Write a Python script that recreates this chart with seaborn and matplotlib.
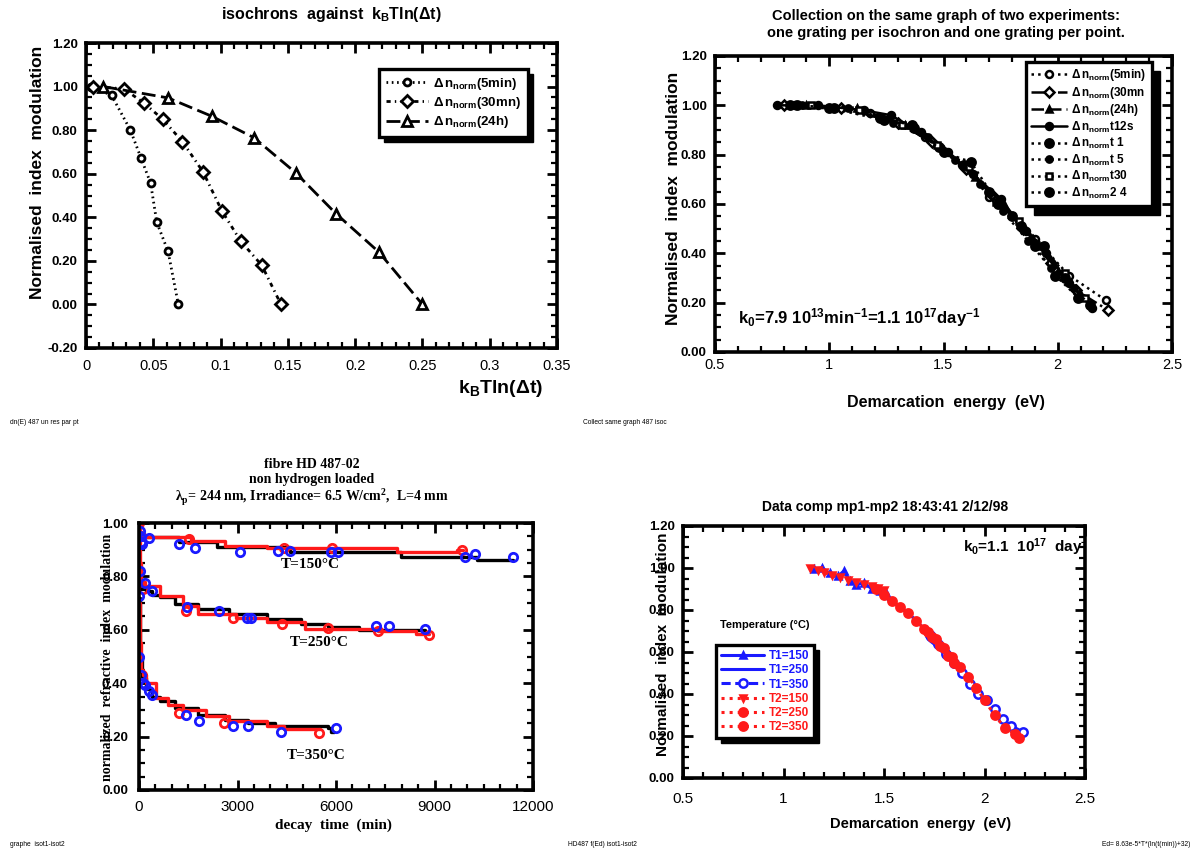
import matplotlib
matplotlib.use("Agg")
import matplotlib.pyplot as plt
import seaborn as sns
from matplotlib.patches import Rectangle
from matplotlib.ticker import MultipleLocator, FuncFormatter

# ---------------- data ----------------
# isochrons versus kB T ln(dt)
iso_5min_x = [0.004, 0.019, 0.033, 0.041, 0.048, 0.0526, 0.061, 0.0686]
iso_5min_y = [1.00, 0.96, 0.80, 0.67, 0.557, 0.377, 0.243, 0.00]
iso_30mn_x = [0.005, 0.028, 0.043, 0.057, 0.0717, 0.087, 0.101, 0.115, 0.1306, 0.1449]
iso_30mn_y = [1.00, 0.99, 0.925, 0.85, 0.747, 0.608, 0.429, 0.29, 0.18, 0.00]
iso_24h_x = [0.013, 0.061, 0.0934, 0.1249, 0.1557, 0.1857, 0.2177, 0.250]
iso_24h_y = [1.00, 0.948, 0.864, 0.765, 0.605, 0.417, 0.24, 0.00]

# master curves against demarcation energy (two experiments)
col_labels = ["(5min)", "(30mn", "(24h)", "t12s", "t 1", "t 5", "t30", "2 4"]
col_5min_x = [0.85, 1.18, 1.42, 1.58, 1.70, 1.80, 1.90, 2.05, 2.21]
col_5min_y = [1.00, 0.97, 0.87, 0.76, 0.63, 0.55, 0.46, 0.31, 0.21]
col_30mn_x = [0.80, 1.05, 1.30, 1.45, 1.60, 1.72, 1.85, 1.97, 2.08, 2.22]
col_30mn_y = [1.00, 0.99, 0.93, 0.85, 0.74, 0.63, 0.50, 0.36, 0.25, 0.17]
col_24h_x = [0.90, 1.12, 1.33, 1.50, 1.64, 1.77, 1.89, 2.00, 2.10]
col_24h_y = [1.00, 0.99, 0.92, 0.82, 0.71, 0.59, 0.46, 0.33, 0.23]
col_t12s_x = [0.77, 0.95, 1.15, 1.27, 1.40, 1.52, 1.63, 1.75, 1.86, 1.95, 2.05, 2.15]
col_t12s_y = [1.00, 1.00, 0.98, 0.96, 0.89, 0.81, 0.72, 0.62, 0.49, 0.40, 0.28, 0.18]
col_t1_x = [0.83, 1.00, 1.24, 1.37, 1.48, 1.59, 1.70, 1.80, 1.90, 1.99, 2.09]
col_t1_y = [1.00, 0.99, 0.94, 0.91, 0.83, 0.76, 0.65, 0.55, 0.43, 0.31, 0.22]
col_t5_x = [0.88, 1.08, 1.28, 1.43, 1.55, 1.66, 1.76, 1.87, 1.97, 2.07]
col_t5_y = [1.00, 0.99, 0.93, 0.87, 0.78, 0.68, 0.57, 0.45, 0.34, 0.26]
col_t30_x = [0.92, 1.13, 1.32, 1.47, 1.61, 1.73, 1.83, 1.93, 2.03, 2.12]
col_t30_y = [1.00, 0.98, 0.92, 0.84, 0.75, 0.61, 0.53, 0.43, 0.32, 0.22]
col_24_x = [0.86, 1.02, 1.22, 1.36, 1.50, 1.62, 1.74, 1.84, 1.94, 2.03, 2.14]
col_24_y = [1.00, 0.99, 0.95, 0.92, 0.81, 0.77, 0.60, 0.51, 0.43, 0.30, 0.19]

# isothermal decay, fibre HD 487-02 (time in min)
blk150_t = [0, 10, 30, 80, 1220, 2380, 4590, 7970, 10290, 11400]
blk150_y = [1.00, 0.96, 0.95, 0.946, 0.927, 0.909, 0.892, 0.873, 0.861, 0.861]
red150_t = [0, 10, 40, 100, 1570, 2620, 3900, 7850, 9700, 9880]
red150_y = [1.00, 0.97, 0.955, 0.946, 0.934, 0.915, 0.905, 0.892, 0.90, 0.90]
blk250_t = [0, 60, 200, 400, 640, 1100, 1800, 2730, 3900, 4940, 5760, 6690, 8720]
blk250_y = [0.83, 0.76, 0.745, 0.73, 0.721, 0.695, 0.677, 0.658, 0.64, 0.62, 0.61, 0.60, 0.60]
red250_t = [0, 20, 60, 170, 640, 1340, 1800, 2960, 3900, 5060, 7270, 8430, 8840]
red250_y = [1.00, 0.85, 0.78, 0.764, 0.727, 0.69, 0.658, 0.645, 0.63, 0.604, 0.595, 0.583, 0.583]
blk350_t = [0, 30, 100, 200, 400, 640, 1100, 1800, 2620, 3310, 4130, 5760, 5850, 5930]
blk350_y = [0.72, 0.50, 0.42, 0.38, 0.35, 0.332, 0.307, 0.282, 0.263, 0.25, 0.238, 0.232, 0.219, 0.219]
red350_t = [0, 20, 60, 120, 200, 520, 870, 1340, 2030, 2730, 3900, 4420, 5520]
red350_y = [0.70, 0.55, 0.45, 0.43, 0.40, 0.345, 0.32, 0.30, 0.277, 0.258, 0.238, 0.229, 0.229]

blue150_t = [20, 30, 60, 100, 300, 1220, 1720, 3080, 4240, 4590, 5840, 6070, 9940, 10230, 11400]
blue150_y = [0.97, 0.95, 0.93, 0.92, 0.945, 0.921, 0.908, 0.892, 0.896, 0.896, 0.89, 0.89, 0.873, 0.883, 0.873]
blue250_t = [10, 30, 170, 400, 1450, 2440, 3290, 3400, 7210, 7620, 8720]
blue250_y = [0.727, 0.82, 0.774, 0.746, 0.686, 0.67, 0.645, 0.645, 0.614, 0.614, 0.604]
blue350_t = [10, 60, 120, 170, 290, 400, 1430, 1840, 2850, 3310, 4320, 6010]
blue350_y = [0.50, 0.43, 0.40, 0.395, 0.37, 0.357, 0.28, 0.26, 0.238, 0.238, 0.219, 0.234]
redm150_t = [0, 50, 1510, 4420, 5870, 9830]
redm150_y = [1.00, 0.95, 0.94, 0.905, 0.905, 0.90]
redm250_t = [120, 1420, 2850, 4360, 5760, 7270, 8840]
redm250_y = [0.752, 0.67, 0.645, 0.623, 0.605, 0.595, 0.58]
redm350_t = [80, 1220, 2590, 5490]
redm350_y = [0.43, 0.288, 0.25, 0.213]

# data comparison mp1 / mp2 against demarcation energy
cmp_labels = ["T1=150", "T1=250", "T1=350", "T2=150", "T2=250", "T2=350"]
t1_150_x = [1.15, 1.19, 1.23, 1.27, 1.30, 1.33, 1.36, 1.40, 1.44, 1.48, 1.51]
t1_150_y = [0.995, 1.00, 0.975, 0.96, 0.985, 0.94, 0.92, 0.93, 0.90, 0.89, 0.88]
t1_250_x = [1.45, 1.49, 1.53, 1.57, 1.61, 1.65, 1.69, 1.72, 1.76, 1.80, 1.84]
t1_250_y = [0.89, 0.88, 0.84, 0.82, 0.79, 0.76, 0.72, 0.66, 0.63, 0.59, 0.55]
t1_350_x = [1.73, 1.77, 1.81, 1.85, 1.89, 1.93, 1.97, 2.01, 2.05, 2.09, 2.13, 2.19]
t1_350_y = [0.68, 0.64, 0.59, 0.55, 0.50, 0.45, 0.40, 0.37, 0.33, 0.28, 0.25, 0.22]
t2_150_x = [1.13, 1.17, 1.20, 1.24, 1.28, 1.32, 1.36, 1.40, 1.44, 1.47, 1.50]
t2_150_y = [1.00, 0.99, 0.98, 0.965, 0.955, 0.945, 0.935, 0.925, 0.915, 0.905, 0.895]
t2_250_x = [1.46, 1.50, 1.54, 1.58, 1.62, 1.66, 1.70, 1.74, 1.78, 1.82, 1.85]
t2_250_y = [0.90, 0.87, 0.845, 0.815, 0.785, 0.75, 0.71, 0.67, 0.63, 0.58, 0.55]
t2_350_x = [1.72, 1.76, 1.80, 1.84, 1.88, 1.92, 1.96, 2.00, 2.05, 2.10, 2.15, 2.17]
t2_350_y = [0.695, 0.66, 0.62, 0.575, 0.53, 0.48, 0.43, 0.37, 0.30, 0.24, 0.21, 0.19]

# ---------------- styling ----------------
sns.set_theme(style="ticks")
plt.rcParams.update({
    "font.family": ["Liberation Sans", "DejaVu Sans"],
    "mathtext.fontset": "custom",
    "mathtext.rm": "Liberation Sans",
    "mathtext.bf": "Liberation Sans:bold",
    "mathtext.it": "Liberation Sans:italic",
    "text.color": "black",
    "axes.edgecolor": "black",
})

BLUE = "#1a1aff"
RED = "#ff1a1a"
W, H = 1192, 861
fig = plt.figure(figsize=(W / 100, H / 100), dpi=100)
fig.patch.set_facecolor("white")


def axes_px(left, top, right, bottom):
    return fig.add_axes([left / W, 1 - bottom / H, (right - left) / W, (bottom - top) / H])


def ftext(x, y, s, **kw):
    kw.setdefault("ha", "center")
    kw.setdefault("va", "center")
    return fig.text(x / W, 1 - y / H, s, **kw)


def frame(ax, xlim, ylim, xmaj, xmin, ymaj, ymin, xfmt, xpad, ypad, xsize=10.5, ysize=9.5):
    ax.set_xlim(*xlim)
    ax.set_ylim(*ylim)
    ax.xaxis.set_major_locator(MultipleLocator(xmaj))
    ax.xaxis.set_minor_locator(MultipleLocator(xmin))
    ax.yaxis.set_major_locator(MultipleLocator(ymaj))
    ax.yaxis.set_minor_locator(MultipleLocator(ymin))
    ax.xaxis.set_major_formatter(FuncFormatter(xfmt))
    ax.yaxis.set_major_formatter(FuncFormatter(lambda v, p: "%.2f" % v))
    ax.tick_params(which="both", direction="in", top=True, right=True, colors="black")
    ax.tick_params(which="major", length=7, width=2)
    ax.tick_params(which="minor", length=4, width=1.6)
    ax.tick_params(axis="x", which="major", pad=xpad, labelsize=xsize)
    ax.tick_params(axis="y", which="major", pad=ypad, labelsize=ysize)
    for lab in ax.get_yticklabels():
        lab.set_fontweight("bold")
    for s in ax.spines.values():
        s.set_visible(True)
        s.set_linewidth(2.6)
        s.set_color("black")
    ax.set_facecolor("white")
    ax.grid(False)
    ax.set_xlabel("")
    ax.set_ylabel("")


def boxed_legend(ax, handles, labels, x, y, **kw):
    leg = ax.legend(handles, labels, loc="upper left", bbox_to_anchor=(x / W, 1 - y / H),
                    bbox_transform=fig.transFigure, frameon=True, fancybox=False,
                    framealpha=1, numpoints=1, borderaxespad=0, **kw)
    fr = leg.get_frame()
    fr.set_edgecolor("black")
    fr.set_linewidth(2.4)
    fr.set_facecolor("white")
    return leg


def legend_shadow(ax, leg, dx, dy):
    fig.canvas.draw()
    bb = leg.get_frame().get_window_extent().transformed(fig.transFigure.inverted())
    ax.add_patch(Rectangle((bb.x0 + dx / W, bb.y0 - dy / H), bb.width, bb.height,
                           transform=fig.transFigure, facecolor="black", edgecolor="black",
                           zorder=leg.get_zorder() - 0.1, clip_on=False))


def gfmt(v, p):
    return "%g" % round(v, 6)


def ifmt(v, p):
    return "%d" % round(v)


def nlab(s):
    return r"$\mathbf{\Delta\,n_{norm}}$" + s


# ---------------- panel 1: isochrons ----------------
ax1 = axes_px(86, 43, 557, 348)
iso_styles = [
    (iso_5min_x, iso_5min_y, (0, (0.6, 1.3)), "o", 5, "(5min)"),
    (iso_30mn_x, iso_30mn_y, (0, (1.5, 1.5, 0.5, 1.5)), "D", 6, "(30mn)"),
    (iso_24h_x, iso_24h_y, (0, (5, 2)), "^", 6.5, "(24h)"),
]
for xs, ys, ls, mk, ms, lb in iso_styles:
    sns.lineplot(x=xs, y=ys, ax=ax1, estimator=None, sort=False, color="black", lw=2,
                 linestyle=ls, marker=mk, markersize=ms, markerfacecolor="white",
                 markeredgecolor="black", markeredgewidth=2, label=nlab(lb))
frame(ax1, (0, 0.35), (-0.2, 1.2), 0.05, 0.01, 0.2, 0.05, gfmt, 8, 6)
leg1 = boxed_legend(ax1, ax1.get_lines()[:3], [nlab(s) for s in ["(5min)", "(30mn)", "(24h)"]],
                    379, 69, prop={"weight": "bold", "size": 9.5}, handlelength=3.2,
                    labelspacing=0.25, borderpad=0.5, handletextpad=0.4)
ftext(331, 15, r"isochrons  against  k$_\mathbf{B}$Tln($\mathbf{\Delta}$t)", fontsize=11.5,
      fontweight="bold")
ftext(543, 388, r"k$_\mathbf{B}$Tln($\mathbf{\Delta}$t)", fontsize=14, fontweight="bold", ha="right")
ftext(38, 172, "Normalised  index  modulation", fontsize=12.5, fontweight="bold", rotation=90)

# ---------------- panel 2: two experiments on one graph ----------------
ax2 = axes_px(715, 56, 1172, 352)
col_series = [
    (col_5min_x, col_5min_y, ":", "o", 5, "white"),
    (col_30mn_x, col_30mn_y, "-.", "D", 5, "white"),
    (col_24h_x, col_24h_y, (0, (5, 2)), "^", 4.5, "black"),
    (col_t12s_x, col_t12s_y, "-", "o", 5, "black"),
    (col_t1_x, col_t1_y, ":", "o", 6, "black"),
    (col_t5_x, col_t5_y, ":", "o", 4.5, "black"),
    (col_t30_x, col_t30_y, ":", "s", 5, "white"),
    (col_24_x, col_24_y, ":", "o", 6, "black"),
]
for (xs, ys, ls, mk, ms, fc), lb in zip(col_series, col_labels):
    sns.lineplot(x=xs, y=ys, ax=ax2, estimator=None, sort=False, color="black", lw=1.8,
                 linestyle=ls, marker=mk, markersize=ms, markerfacecolor=fc,
                 markeredgecolor="black", markeredgewidth=1.8, label=nlab(lb))
frame(ax2, (0.5, 2.5), (0, 1.2), 0.5, 0.1, 0.2, 0.05, gfmt, 4, 6)
leg2 = boxed_legend(ax2, ax2.get_lines()[:8], [nlab(s) for s in col_labels], 1026, 62,
                    prop={"weight": "bold", "size": 8.5}, handlelength=3.0,
                    labelspacing=0.12, borderpad=0.45, handletextpad=0.4)
ax2.text(0.05, 0.115, r"k$_\mathbf{0}$=7.9 10$^\mathbf{13}$min$^\mathbf{-1}$=1.1 10$^\mathbf{17}$day$^\mathbf{-1}$",
         transform=ax2.transAxes, fontsize=12, fontweight="bold", ha="left", va="center")
ftext(946, 16, "Collection on the same graph of two experiments:", fontsize=10.5, fontweight="bold")
ftext(946, 33, "one grating per isochron and one grating per point.", fontsize=10.5, fontweight="bold")
ftext(946, 403, "Demarcation  energy  (eV)", fontsize=11.5, fontweight="bold")
ftext(674, 198, "Normalised  index  modulation", fontsize=12.5, fontweight="bold", rotation=90)

# ---------------- panel 3: isothermal decay ----------------
ax3 = axes_px(139, 523, 533, 790)
for ts, ys, c in [(blk150_t, blk150_y, "black"), (blk250_t, blk250_y, "black"),
                  (blk350_t, blk350_y, "black"), (red150_t, red150_y, RED),
                  (red250_t, red250_y, RED), (red350_t, red350_y, RED)]:
    sns.lineplot(x=ts, y=ys, ax=ax3, estimator=None, sort=False, color=c, lw=2.4,
                 drawstyle="steps-post")
for ts, ys in [(redm150_t, redm150_y), (redm250_t, redm250_y), (redm350_t, redm350_y)]:
    sns.lineplot(x=ts, y=ys, ax=ax3, estimator=None, sort=False, linestyle="none", marker="o",
                 markersize=6, markerfacecolor="none", markeredgecolor=RED, markeredgewidth=2)
for ts, ys in [(blue150_t, blue150_y), (blue250_t, blue250_y), (blue350_t, blue350_y)]:
    sns.lineplot(x=ts, y=ys, ax=ax3, estimator=None, sort=False, linestyle="none", marker="o",
                 markersize=6, markerfacecolor="none", markeredgecolor=BLUE, markeredgewidth=2)
frame(ax3, (0, 12000), (0, 1.0), 3000, 500, 0.2, 0.05, ifmt, 7, 8, xsize=11, ysize=9.5)
serif = ["Liberation Serif", "DejaVu Serif"]
for tx, ty, s in [(5208, 0.843, "T=150°C"), (5482, 0.551, "T=250°C"), (5391, 0.131, "T=350°C")]:
    ax3.text(tx, ty, s, family=serif, fontsize=11, fontweight="bold", ha="center", va="center")
ftext(312, 465, "fibre HD 487-02", family=serif, fontsize=10, fontweight="bold")
ftext(312, 479, "non hydrogen loaded", family=serif, fontsize=10, fontweight="bold")
ftext(312, 497, r"λ$_\mathregular{p}$= 244 nm, Irradiance= 6.5 W/cm$^\mathregular{2}$,  L=4 mm",
      family=serif, fontsize=10, fontweight="bold")
ftext(333, 825, "decay  time  (min)", family=serif, fontsize=11, fontweight="bold")
ftext(108, 657, "normalized  refractive  index  modulation", family=serif, fontsize=10,
      fontweight="bold", rotation=90)

# ---------------- panel 4: data comparison ----------------
ax4 = axes_px(683, 526, 1085, 778)
cmp_series = [
    (t1_150_x, t1_150_y, BLUE, "-", "^", 4),
    (t1_250_x, t1_250_y, BLUE, "-", None, 0),
    (t1_350_x, t1_350_y, BLUE, (0, (3, 1.5)), "o", 6),
    (t2_150_x, t2_150_y, RED, ":", "v", 5),
    (t2_250_x, t2_250_y, RED, ":", "o", 6),
    (t2_350_x, t2_350_y, RED, ":", "o", 6),
]
for (xs, ys, c, ls, mk, ms), lb in zip(cmp_series, cmp_labels):
    kw = dict(marker=mk, markersize=ms, markeredgecolor=c, markeredgewidth=1.8) if mk else {}
    if mk == "o" and c == BLUE:
        kw["markerfacecolor"] = "white"
    elif mk:
        kw["markerfacecolor"] = c
    sns.lineplot(x=xs, y=ys, ax=ax4, estimator=None, sort=False, color=c, lw=2.2,
                 linestyle=ls, label=lb, **kw)
frame(ax4, (0.5, 2.5), (0, 1.2), 0.5, 0.1, 0.2, 0.05, gfmt, 10, 6, xsize=11, ysize=9.5)
leg4 = boxed_legend(ax4, ax4.get_lines()[:6], cmp_labels, 716, 645,
                    prop={"weight": "bold", "size": 8.5}, handlelength=3.6,
                    labelspacing=0.18, borderpad=0.45, handletextpad=0.4)
for txt, c in zip(leg4.get_texts(), [BLUE] * 3 + [RED] * 3):
    txt.set_color(c)
ftext(720, 625, "Temperature (°C)", fontsize=8, fontweight="bold", ha="left")
ax4.text(963 / W, 1 - 547 / H, r"k$_\mathbf{0}$=1.1  10$^\mathbf{17}$  day$^\mathbf{-1}$",
         fontsize=11, fontweight="bold", ha="left", va="center", transform=fig.transFigure,
         clip_on=True)
ftext(885, 507, "Data comp mp1-mp2 18:43:41 2/12/98", fontsize=10, fontweight="bold")
ftext(921, 824, "Demarcation  energy  (eV)", fontsize=10.5, fontweight="bold")
ftext(663, 644, "Normalised  index  modulation", fontsize=11, fontweight="bold", rotation=90)

# ---------------- legend shadows & footnotes ----------------
legend_shadow(ax1, leg1, 5, 5)
legend_shadow(ax2, leg2, 8, 9)
legend_shadow(ax4, leg4, 5, 5)

ftext(10, 423, "dn(E) 487 un res par pt", fontsize=4.8, ha="left")
ftext(583, 423, "Collect same graph 487 isoc", fontsize=4.8, ha="left")
ftext(10, 845, "graphe  isot1-isot2", fontsize=4.8, ha="left")
ftext(568, 845, "HD487 f(Ed) isot1-isot2", fontsize=4.8, ha="left")
ftext(1190, 845, "Ed= 8.63e-5*T*(ln(t(min))+32)", fontsize=4.8, ha="right")

fig.savefig("out.png", dpi=100, facecolor="white")
